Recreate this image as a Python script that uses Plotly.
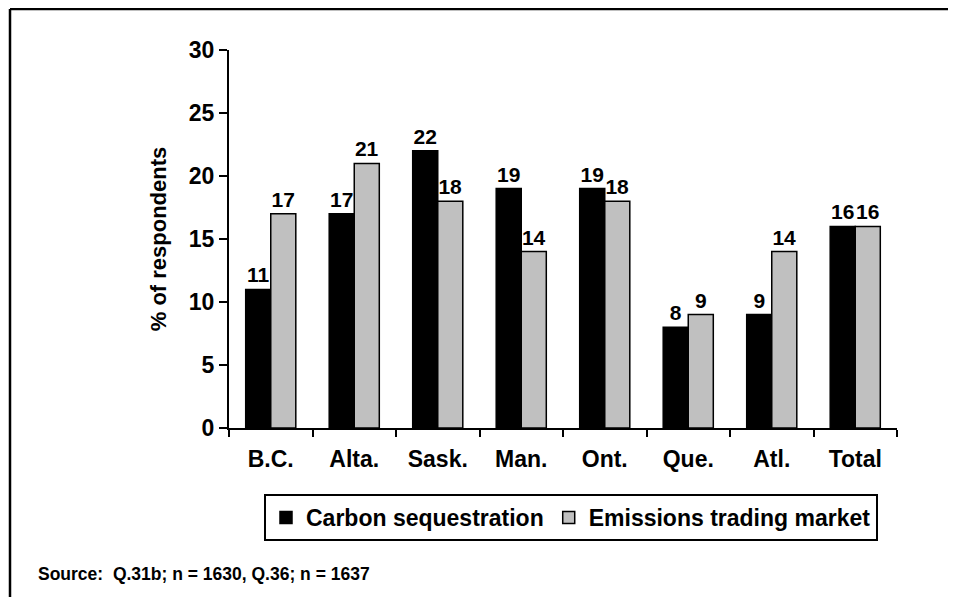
import plotly.graph_objects as go

# Datos del gráfico
provincias = ["B.C.", "Alta.", "Sask.", "Man.", "Ont.", "Que.", "Atl.", "Total"]
carbon_seq = [11, 17, 22, 19, 19, 8, 9, 16]
emisiones = [17, 21, 18, 14, 18, 9, 14, 16]
ticks_y = [0, 5, 10, 15, 20, 25, 30]

FUENTE = "Liberation Sans, Arial, sans-serif"
NEGRO = "#000000"
GRIS = "#C0C0C0"

fig = go.Figure()
fig.add_trace(go.Bar(
    x=provincias, y=carbon_seq, name="Carbon sequestration",
    marker=dict(color=NEGRO, line=dict(color=NEGRO, width=1.5)),
    text=carbon_seq, textposition="outside", cliponaxis=False,
    textfont=dict(family=FUENTE, size=21, color=NEGRO, weight="bold"),
))
fig.add_trace(go.Bar(
    x=provincias, y=emisiones, name="Emissions trading market",
    marker=dict(color=GRIS, line=dict(color=NEGRO, width=1.5)),
    text=emisiones, textposition="outside", cliponaxis=False,
    textfont=dict(family=FUENTE, size=21, color=NEGRO, weight="bold"),
))

# Área de trazado en píxeles (la página añade 8 px de margen al body)
W, H = 956, 597
L, R, T, B = 221, 889, 42, 420
pw, ph = R - L, B - T

def px_x(x):
    return (x - L) / pw

def px_y(y):
    return (B - y) / ph

fig.update_layout(
    width=W, height=H,
    margin=dict(l=L, r=W - R, t=T, b=H - B, pad=0),
    paper_bgcolor="white", plot_bgcolor="white",
    font=dict(family=FUENTE, size=22, color=NEGRO, weight="bold"),
    barmode="group", bargap=0.4, bargroupgap=0,
    showlegend=True,
    legend=dict(
        orientation="h", x=px_x(256), y=px_y(486), xanchor="left", yanchor="top",
        bordercolor=NEGRO, borderwidth=2, bgcolor="white",
        font=dict(family=FUENTE, size=23, color=NEGRO, weight="bold"),
        itemwidth=30, tracegroupgap=0,
    ),
    xaxis=dict(
        showline=True, linecolor=NEGRO, linewidth=2,
        ticks="outside", tickson="boundaries", ticklen=7, tickwidth=2, tickcolor=NEGRO,
        tickfont=dict(family=FUENTE, size=23, color=NEGRO, weight="bold"),
        showgrid=False, zeroline=False, ticklabelstandoff=9,
    ),
    yaxis=dict(
        range=[0, 30], tickvals=ticks_y,
        showline=True, linecolor=NEGRO, linewidth=2,
        ticks="outside", ticklen=8, tickwidth=2, tickcolor=NEGRO,
        tickfont=dict(family=FUENTE, size=23, color=NEGRO, weight="bold"),
        showgrid=False, zeroline=False,
        title=dict(text="% of respondents", standoff=16,
                   font=dict(family=FUENTE, size=22, color=NEGRO, weight="bold")),
    ),
)

# Marco exterior del gráfico
fig.add_shape(type="line", xref="paper", yref="paper",
              x0=px_x(2), x1=px_x(W + 5), y0=px_y(1), y1=px_y(1),
              line=dict(color=NEGRO, width=2.5))
fig.add_shape(type="line", xref="paper", yref="paper",
              x0=px_x(2), x1=px_x(2), y0=px_y(1), y1=px_y(H + 5),
              line=dict(color=NEGRO, width=2.5))

# Fuente
fig.add_annotation(
    text="Source:  Q.31b; n = 1630, Q.36; n = 1637",
    xref="paper", yref="paper", x=px_x(28), y=px_y(566),
    xanchor="left", yanchor="middle", showarrow=False,
    font=dict(family=FUENTE, size=17.5, color=NEGRO, weight="bold"),
)

fig.write_html("out.html")
